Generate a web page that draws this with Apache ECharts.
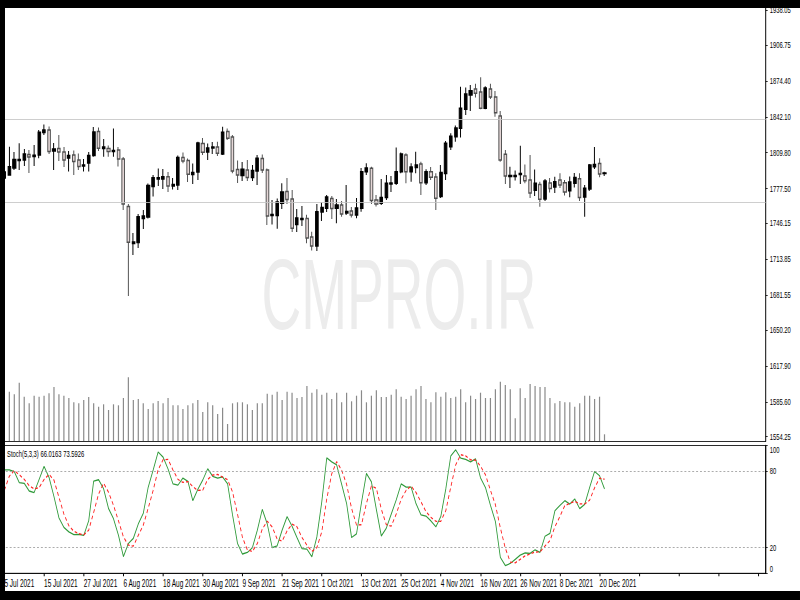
<!DOCTYPE html>
<html>
<head>
<meta charset="utf-8">
<script src="https://cdn.jsdelivr.net/npm/echarts@6/dist/echarts.min.js"></script>
<style>
html,body{margin:0;padding:0;background:#fff;overflow:hidden;width:800px;height:600px;}
#wrap{position:absolute;left:0;top:0;width:800px;height:600px;overflow:hidden;}
#c{position:absolute;left:0;top:0;height:600px;transform-origin:0 0;}
</style>
</head>
<body>
<div id="wrap"><div id="c"></div></div>
<script>
const dates = [
'5 Jul 2021','6 Jul 2021','7 Jul 2021','8 Jul 2021','9 Jul 2021','12 Jul 2021','13 Jul 2021','14 Jul 2021','15 Jul 2021','16 Jul 2021',
'19 Jul 2021','20 Jul 2021','21 Jul 2021','22 Jul 2021','23 Jul 2021','26 Jul 2021','27 Jul 2021','28 Jul 2021','29 Jul 2021','30 Jul 2021',
'2 Aug 2021','3 Aug 2021','4 Aug 2021','5 Aug 2021','6 Aug 2021','9 Aug 2021','10 Aug 2021','11 Aug 2021','12 Aug 2021','13 Aug 2021',
'16 Aug 2021','17 Aug 2021','18 Aug 2021','19 Aug 2021','20 Aug 2021','23 Aug 2021','24 Aug 2021','25 Aug 2021','26 Aug 2021','27 Aug 2021',
'30 Aug 2021','31 Aug 2021','1 Sep 2021','2 Sep 2021','3 Sep 2021','6 Sep 2021','7 Sep 2021','8 Sep 2021','9 Sep 2021','10 Sep 2021',
'13 Sep 2021','14 Sep 2021','15 Sep 2021','16 Sep 2021','17 Sep 2021','20 Sep 2021','21 Sep 2021','22 Sep 2021','23 Sep 2021','24 Sep 2021',
'27 Sep 2021','28 Sep 2021','29 Sep 2021','30 Sep 2021','1 Oct 2021','4 Oct 2021','5 Oct 2021','6 Oct 2021','7 Oct 2021','8 Oct 2021',
'11 Oct 2021','12 Oct 2021','13 Oct 2021','14 Oct 2021','15 Oct 2021','18 Oct 2021','19 Oct 2021','20 Oct 2021','21 Oct 2021','22 Oct 2021',
'25 Oct 2021','26 Oct 2021','27 Oct 2021','28 Oct 2021','29 Oct 2021','1 Nov 2021','2 Nov 2021','3 Nov 2021','4 Nov 2021','5 Nov 2021',
'8 Nov 2021','9 Nov 2021','10 Nov 2021','11 Nov 2021','12 Nov 2021','15 Nov 2021','16 Nov 2021','17 Nov 2021','18 Nov 2021','19 Nov 2021',
'22 Nov 2021','23 Nov 2021','24 Nov 2021','25 Nov 2021','26 Nov 2021','29 Nov 2021','30 Nov 2021','1 Dec 2021','2 Dec 2021','3 Dec 2021',
'6 Dec 2021','7 Dec 2021','8 Dec 2021','9 Dec 2021','10 Dec 2021','13 Dec 2021','14 Dec 2021','15 Dec 2021','16 Dec 2021','17 Dec 2021',
'20 Dec 2021','21 Dec 2021'
];

const open = [
1787.05,1789.75,1796.05,1802.8,1803.25,1808.2,1806.4,1807.75,1828.0,1830.25,
1811.35,1813.6,1810.45,1805.05,1807.75,1803.25,1797.85,1800.55,1807.3,1828.9,
1813.6,1813.6,1810.9,1812.25,1804.15,1761.4,1728.1,1729.0,1750.6,1751.95,
1779.4,1786.15,1786.15,1788.22,1779.85,1780.75,1805.5,1802.8,1790.2,1792.45,
1818.1,1810.45,1814.05,1814.95,1808.65,1828.9,1823.95,1794.7,1789.3,1794.25,
1787.5,1793.35,1804.6,1794.25,1753.3,1753.3,1764.28,1774.9,1768.15,1745.2,
1749.7,1750.6,1733.95,1725.85,1756.45,1759.78,1768.6,1759.78,1762.75,1755.55,
1757.35,1753.75,1759.78,1792.72,1795.78,1767.25,1764.28,1769.5,1781.65,1782.28,
1792.72,1807.75,1792.72,1796.5,1799.65,1782.82,1792.72,1787.95,1770.4,1791.1,
1815.22,1824.22,1831.78,1848.88,1861.75,1867.15,1864.45,1849.78,1867.15,1859.95,
1842.85,1808.38,1788.4,1788.4,1790.2,1788.85,1785.25,1775.98,1781.2,1768.15,
1782.55,1778.95,1785.25,1782.82,1775.62,1782.28,1786.42,1769.95,1777.15,1797.22,
1800.1,1791.1
];
const high = [
1794.25,1815.22,1810.45,1818.28,1813.15,1812.25,1816.75,1830.25,1835.2,1833.4,
1818.55,1825.75,1814.95,1811.35,1811.8,1809.1,1804.15,1810.45,1832.95,1832.5,
1822.15,1816.3,1831.6,1814.95,1805.95,1763.65,1737.55,1754.65,1758.25,1782.1,
1789.75,1795.6,1795.15,1792.45,1787.05,1807.3,1810.0,1804.6,1800.1,1819.72,
1823.05,1818.1,1819.45,1819.72,1833.22,1831.6,1825.75,1802.8,1801.45,1803.25,
1798.75,1807.75,1808.2,1795.6,1767.25,1768.6,1782.28,1787.05,1776.25,1759.15,
1761.85,1754.02,1738.72,1763.65,1765.0,1771.75,1770.85,1768.15,1766.35,1780.75,
1760.95,1769.05,1796.05,1800.28,1797.22,1771.75,1786.15,1789.75,1788.85,1814.5,
1810.0,1809.28,1800.28,1810.72,1801.72,1794.88,1796.95,1791.28,1798.75,1820.35,
1827.28,1834.3,1869.22,1868.5,1870.75,1871.92,1877.68,1869.58,1871.92,1865.35,
1847.35,1812.25,1797.22,1793.8,1816.12,1799.2,1807.75,1794.7,1783.72,1786.15,
1787.05,1788.22,1791.2,1785.25,1788.4,1791.55,1791.28,1780.75,1799.65,1814.95,
1804.78,1792.72
];
const low = [
1785.25,1789.12,1794.25,1794.25,1797.85,1791.55,1797.85,1804.78,1825.75,1808.65,
1794.25,1802.35,1796.95,1792.9,1789.75,1794.25,1792.9,1792.9,1806.22,1811.35,
1806.22,1806.22,1806.22,1797.4,1758.25,1680.85,1717.75,1724.05,1741.15,1750.6,
1770.4,1779.85,1777.15,1774.45,1776.7,1776.25,1800.28,1783.45,1781.65,1785.25,
1807.75,1803.25,1808.65,1806.85,1807.75,1821.25,1791.28,1782.55,1784.35,1784.35,
1784.35,1780.75,1791.55,1744.75,1745.2,1741.42,1759.15,1763.65,1738.45,1738.45,
1743.85,1728.28,1721.8,1721.35,1748.35,1756.45,1750.15,1746.28,1752.22,1753.75,
1751.5,1750.78,1756.72,1789.75,1763.65,1761.4,1762.75,1767.25,1774.45,1780.75,
1791.28,1782.28,1783.72,1791.28,1771.75,1780.75,1785.25,1758.25,1769.05,1785.25,
1812.25,1819.72,1823.5,1843.75,1847.35,1859.5,1848.88,1848.88,1858.15,1842.22,
1801.72,1781.65,1778.05,1784.8,1781.65,1782.28,1769.05,1770.85,1761.22,1766.35,
1774.0,1773.55,1778.05,1771.3,1769.68,1778.5,1766.35,1752.22,1775.35,1795.15,
1787.68,1788.85
];
const close = [
1792.45,1797.22,1803.7,1803.7,1808.65,1805.95,1807.48,1828.18,1830.25,1810.9,
1813.15,1810.45,1803.25,1807.3,1801.9,1797.4,1798.75,1807.3,1828.45,1813.78,
1814.95,1810.9,1811.8,1804.15,1763.65,1729.18,1729.45,1752.22,1752.85,1780.3,
1787.32,1787.32,1788.22,1779.85,1781.2,1805.5,1802.35,1790.38,1792.0,1818.55,
1810.18,1814.05,1814.95,1809.28,1828.18,1822.78,1793.35,1789.75,1794.88,1787.5,
1793.8,1804.78,1794.25,1752.85,1754.2,1765.45,1774.45,1767.7,1741.78,1751.05,
1750.6,1733.05,1725.85,1756.72,1760.5,1769.95,1759.6,1762.75,1754.65,1756.9,
1753.75,1760.05,1792.72,1796.05,1766.8,1763.65,1769.5,1782.28,1782.55,1792.72,
1808.65,1792.72,1796.95,1798.75,1782.82,1792.72,1787.68,1768.78,1792.0,1818.28,
1824.58,1832.05,1849.78,1862.65,1865.62,1863.28,1849.78,1868.05,1859.95,1845.82,
1803.25,1788.85,1789.3,1789.3,1791.1,1784.62,1773.55,1782.28,1767.88,1784.35,
1777.6,1783.72,1780.75,1774.45,1783.45,1787.5,1769.5,1777.78,1798.75,1799.2,
1790.65,1791.6
];
const volume = [
48000,49300,46700,58300,44300,37700,45300,44300,45300,47700,
54000,46700,45300,43000,38700,37700,41000,44000,37700,34300,
36700,31000,36700,35700,43000,63700,41000,42000,37700,32000,
37700,40000,37700,43000,35700,35700,32000,35700,37700,41000,
29000,38700,35700,27000,33300,17000,37700,38700,38700,36700,
31000,37700,37700,47300,46300,49300,41000,49300,48300,43000,
44000,55000,48300,51700,46300,48300,42000,48300,38700,48300,
39700,45300,50700,38700,45300,50700,44000,44000,46300,51700,
44300,42000,45300,51700,55000,42000,38700,48700,44300,48700,
43000,44300,51700,38700,45300,42000,48300,43000,43000,51700,
59300,56000,51700,22700,52700,43000,57000,55000,54000,54000,
43000,37700,40000,38700,38700,34300,37700,45300,45300,42000,
44300,6700
];
const stochMain = [
80.9,80.9,79.5,71.0,70.4,64.4,63.2,73.4,83.7,75.1,
60.0,43.4,35.9,32.4,30.3,30.4,29.6,41.1,72.1,73.2,
66.2,50.7,42.7,29.8,13.1,23.3,27.3,38.6,46.8,67.4,
80.8,94.9,90.9,81.6,69.9,69.0,74.5,72.0,56.8,65.6,
73.0,81.8,75.9,74.4,75.4,70.1,45.7,23.5,15.1,16.3,
20.0,33.7,50.0,38.7,20.1,21.5,33.8,44.4,36.9,27.9,
19.3,18.9,13.0,28.4,56.0,90.3,87.2,84.8,69.7,54.7,
28.0,30.8,55.3,78.1,71.6,49.9,29.2,35.3,46.3,57.4,
69.9,67.5,67.5,54.5,45.7,44.8,41.0,36.4,44.6,66.0,
91.7,96.6,90.1,89.1,87.2,89.6,74.7,67.1,53.3,40.6,
12.5,6.1,7.7,10.9,14.2,15.9,15.6,18.4,16.4,29.0,
31.2,49.0,53.1,56.8,54.2,58.2,50.6,53.9,67.2,79.7,
76.3,66.02
];
const stochSignal = [
65.0,76.0,80.4,77.1,73.6,68.6,66.0,67.0,73.4,77.4,
72.9,59.5,46.4,37.2,32.9,31.0,30.1,33.7,47.6,62.1,
70.5,63.4,53.2,41.1,28.5,22.1,21.2,29.7,37.6,50.9,
65.0,81.0,88.9,89.1,80.8,73.5,71.1,71.8,67.8,64.8,
65.1,73.5,76.9,77.4,75.2,73.3,63.7,46.4,28.1,18.3,
17.1,23.3,34.6,40.8,36.3,26.8,25.1,33.2,38.4,36.4,
28.0,22.0,17.1,20.1,32.5,58.2,77.8,87.4,80.6,69.7,
50.8,37.8,38.0,54.7,68.3,66.5,50.2,38.1,36.9,46.3,
57.9,64.9,68.3,63.2,55.9,48.3,43.8,40.7,40.7,49.0,
67.4,84.8,92.8,91.9,88.8,88.6,83.8,77.1,65.0,53.7,
35.5,19.7,8.8,8.2,10.9,13.7,15.2,16.6,16.8,21.3,
25.5,36.4,44.4,53.0,54.7,56.4,54.3,54.2,57.2,66.9,
74.4,73.59
];
const priceTicks = [1554.25,1585.60,1617.90,1650.20,1681.55,1713.85,1746.15,1777.50,1809.80,1842.10,1874.40,1906.75,1938.05];
const stochTicks = [0,20,80,100];
const stochLevels = [20,80];
const levelLines = [1840.0,1765.5];
const lastPrice = 1791.60;
const stochTitle = 'Stoch(5,3,3) 66.0163 73.5926';
const watermark = 'CMPRO.IR';

// ---- layout (the original screenshot is horizontally condensed) ----
const S = 0.65;                 // horizontal squeeze factor
const W = 800 / S;              // unscaled drawing width
const hx = v => v / S;          // convert screen px (x) to unscaled px
const EMPTY_SLOTS = 32;
const cats = dates.concat(new Array(EMPTY_SLOTS).fill(''));
const candles = dates.map((d, i) => [open[i], close[i], low[i], high[i]]);
const FONT = "'Liberation Sans',Arial,sans-serif";

const el = document.getElementById('c');
el.style.width = W + 'px';
el.style.transform = 'scaleX(' + S + ')';

const chart = echarts.init(el, null, {renderer: 'svg', width: W, height: 600});
chart.setOption({
  animation: false,
  backgroundColor: '#ffffff',
  title: {
    text: stochTitle, left: hx(7), top: 450, padding: 0,
    textStyle: {fontSize: 9, fontWeight: 'normal', fontFamily: FONT, color: '#000'}
  },
  grid: [
    {left: hx(1.9), right: W - hx(765.7), top: 8, bottom: 159, outerBoundsMode: 'none', containLabel: false},
    {left: hx(1.9), right: W - hx(765.7), top: 445.5, bottom: 26.7, outerBoundsMode: 'none', containLabel: false,
     show: true, borderColor: '#000', borderWidth: 1, backgroundColor: 'rgba(0,0,0,0)'}
  ],
  xAxis: [
    {type: 'category', gridIndex: 0, data: cats, boundaryGap: true,
     axisLine: {show: true, lineStyle: {color: '#000', width: 1}},
     axisTick: {show: false}, axisLabel: {show: false}, splitLine: {show: false}},
    {type: 'category', gridIndex: 1, data: cats, boundaryGap: true,
     axisLine: {show: true, lineStyle: {color: '#000', width: 1}},
     axisTick: {show: true, interval: 7, alignWithLabel: true, length: 3, lineStyle: {color: '#000', width: 1.5}},
     axisLabel: {show: true, interval: 7, align: 'left', margin: 5, fontSize: 10, fontFamily: FONT, color: '#000'},
     splitLine: {show: false}}
  ],
  yAxis: [
    {type: 'value', gridIndex: 0, position: 'right', min: 1550.31, max: 1940.05,
     axisLine: {show: true, lineStyle: {color: '#000', width: 1.5}},
     axisTick: {show: true, length: hx(2), customValues: priceTicks, lineStyle: {color: '#000'}},
     axisLabel: {show: true, customValues: priceTicks, formatter: v => Number(v).toFixed(2),
                 margin: hx(4), fontSize: 9, fontFamily: FONT, color: '#000'},
     splitLine: {show: false}},
    {type: 'value', gridIndex: 0, min: 0, max: 433000, show: false, splitLine: {show: false}},
    {type: 'value', gridIndex: 1, position: 'right', min: 0, max: 100,
     axisLine: {show: true, lineStyle: {color: '#000', width: 1.5}},
     axisTick: {show: true, length: hx(2), customValues: stochTicks, lineStyle: {color: '#000'}},
     axisLabel: {show: true, customValues: stochTicks, margin: hx(4), fontSize: 9, fontFamily: FONT, color: '#000',
                 verticalAlignMinLabel: 'bottom', verticalAlignMaxLabel: 'top'},
     splitLine: {show: false}}
  ],
  graphic: [
    {type: 'text', x: hx(399), y: 294, scaleX: 0.55 / S, z: 0, silent: true,
     style: {text: watermark, fontSize: 100, fontFamily: FONT,
             fill: '#ececec', align: 'center', verticalAlign: 'middle'}},
    {type: 'rect', z: 100, silent: true, shape: {x: 0, y: 0, width: W, height: 8}, style: {fill: '#000'}},
    {type: 'rect', z: 100, silent: true, shape: {x: 0, y: 0, width: hx(5), height: 600}, style: {fill: '#000'}},
    {type: 'rect', z: 100, silent: true, shape: {x: 0, y: 591, width: W, height: 9}, style: {fill: '#000'}}
  ],
  series: [
    {type: 'bar', xAxisIndex: 0, yAxisIndex: 1, data: volume, barWidth: hx(1.2), silent: true,
     itemStyle: {color: '#8a8a8a'}, z: 2},
    {type: 'candlestick', xAxisIndex: 0, yAxisIndex: 0, data: candles, barWidth: hx(3), silent: true, z: 3,
     itemStyle: {color: '#000000', color0: '#e6d8d8', borderColor: '#000000', borderColor0: '#505050', borderWidth: 1.5},
     markLine: {
       silent: true, symbol: ['none', 'none'], animation: false,
       data: [
         {yAxis: levelLines[0], lineStyle: {color: '#c4c4c4', width: 1, type: 'solid'}, label: {show: false}},
         {yAxis: levelLines[1], lineStyle: {color: '#c4c4c4', width: 1, type: 'solid'}, label: {show: false}},
         {yAxis: lastPrice, lineStyle: {opacity: 0}, label: {show: true, position: 'end', distance: hx(2),
           formatter: lastPrice.toFixed(2), backgroundColor: '#000', color: '#fff', padding: [2, hx(1.5), 1, hx(1.5)],
           fontSize: 9, fontFamily: FONT}}
       ]
     }},
    {type: 'line', xAxisIndex: 1, yAxisIndex: 2, data: stochMain, symbol: 'none', showSymbol: false, silent: true, z: 4,
     lineStyle: {color: '#2f9a3a', width: 1.3},
     markLine: {silent: true, symbol: ['none', 'none'], animation: false,
       lineStyle: {color: '#9a9a9a', width: 1, type: [3, 3]}, label: {show: false},
       data: stochLevels.map(v => ({yAxis: v}))}},
    {type: 'line', xAxisIndex: 1, yAxisIndex: 2, data: stochSignal, symbol: 'none', showSymbol: false, silent: true, z: 4,
     lineStyle: {color: '#ff2020', width: 1.3, type: [4, 3]}}
  ]
});
</script>
</body>
</html>
